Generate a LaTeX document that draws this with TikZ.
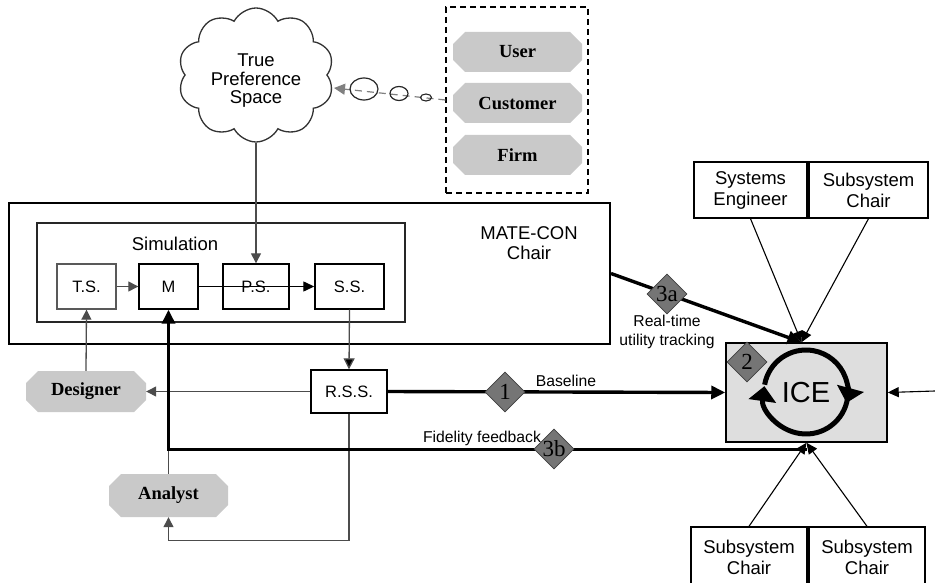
\documentclass[tikz,border=0pt]{standalone}
\usepackage{fontspec}
\setmainfont{Liberation Sans}
\newfontfamily\serifface{Liberation Serif}
\usetikzlibrary{arrows.meta,shapes.geometric,shapes.symbols,calc}
\definecolor{octfill}{gray}{0.79}
\definecolor{icefill}{gray}{0.87}
\definecolor{dmdfill}{gray}{0.46}
\definecolor{lnk}{gray}{0.3}
\tikzset{
  big/.style={font=\fontsize{18.5}{20}\selectfont},
  lbl/.style={font=\fontsize{15.7}{17}\selectfont},
  blockbox/.style={draw, line width=1.4pt, inner sep=0pt, font=\fontsize{16.5}{18}\selectfont},
  octo/.style={rectangle, inner sep=0pt, font=\serifface\bfseries\fontsize{18.5}{20}\selectfont,
    path picture={\fill[octfill]
      ([xshift=12pt]path picture bounding box.south west) --
      ([xshift=-12pt]path picture bounding box.south east) --
      ([yshift=12pt]path picture bounding box.south east) --
      ([yshift=-12pt]path picture bounding box.north east) --
      ([xshift=-12pt]path picture bounding box.north east) --
      ([xshift=12pt]path picture bounding box.north west) --
      ([yshift=-12pt]path picture bounding box.north west) --
      ([yshift=12pt]path picture bounding box.south west) -- cycle;}},
  dmd/.style={diamond, shape aspect=1, draw=black!75, line width=0.8pt, fill=dmdfill,
    minimum width=40pt, minimum height=40pt, inner sep=0pt,
    font=\serifface\fontsize{23}{23}\selectfont},
  glink/.style={draw=lnk, line width=1.3pt, -{Triangle[length=10pt,width=10pt]}},
  blink/.style={draw=black, line width=1.3pt, -{Triangle[length=11pt,width=10pt]}},
  thickline/.style={draw=black, line width=3.4pt, -{Triangle[length=14pt,width=13pt]}},
}
\begin{document}
\begin{tikzpicture}[x=1pt,y=-1pt]
\useasboundingbox (0,0) rectangle (935,583);
\clip (0,0) rectangle (935,583);

% cloud and preference holders
\node[cloud, draw=black!80, line width=1.3pt, cloud puffs=10, cloud puff arc=125, aspect=1.1,
  minimum width=156pt, minimum height=134pt, inner sep=0pt] (cloud) at (256,75) {};
\node[align=center, font=\fontsize{18.5}{18.5}\selectfont] (cloudlbl) at (256,81) {True\\Preference\\Space};
\node[draw, line width=1.2pt, dash pattern=on 6pt off 4pt, minimum width=142pt, minimum height=186pt] (prefbox) at (517,100) {};
\node[octo, minimum width=129pt, minimum height=40pt] (user) at (517.5,52) {User};
\node[octo, minimum width=129pt, minimum height=40pt] (customer) at (517.5,103) {Customer};
\node[octo, minimum width=129pt, minimum height=40pt] (firm) at (517.5,155) {Firm};

\coordinate (cloudin) at (334,88);
\draw[draw=black!50, line width=1.2pt, dash pattern=on 7pt off 5pt, -{Triangle[length=11pt,width=11pt]}] (prefbox.west) -- (cloudin);
\node[ellipse, draw=black!85, line width=1.2pt, minimum width=28pt, minimum height=22pt, inner sep=0pt] (bubbleA) at (364,89) {};
\node[ellipse, draw=black!85, line width=1.2pt, minimum width=18pt, minimum height=14pt, inner sep=0pt] (bubbleB) at (399,93.5) {};
\node[ellipse, draw=black!85, line width=1.1pt, minimum width=11pt, minimum height=7pt, inner sep=0pt] (bubbleC) at (426,97.5) {};

% MATE-CON chair and simulation
\node[draw, line width=2pt, minimum width=601pt, minimum height=141pt] (mate) at (309.5,273.5) {};
\node[big, align=center] (matelbl) at (529,243) {MATE-CON\\Chair};
\node[draw=black!85, line width=1.5pt, minimum width=368pt, minimum height=99pt] (sim) at (221,272.5) {};
\node[big] (simlbl) at (175,244) {Simulation};

\node[blockbox, draw=black!65, minimum width=59pt, minimum height=45pt] (ts) at (86.5,286.5) {T.S.};
\node[blockbox, minimum width=59pt, minimum height=45pt] (m) at (168.5,286.5) {M};
\node[blockbox, minimum width=66pt, minimum height=45pt] (ps) at (256,286.5) {P.S.};
\node[blockbox, minimum width=69pt, minimum height=45pt] (ss) at (349.5,286.5) {S.S.};
\node[blockbox, minimum width=76pt, minimum height=43pt] (rss) at (349,391.5) {R.S.S.};

\node[octo, minimum width=120pt, minimum height=41pt] (designer) at (86,391.5) {Designer};
\node[octo, minimum width=119pt, minimum height=43pt] (analyst) at (168.5,495.5) {Analyst};

% ICE and team
\node[draw, line width=1.5pt, fill=icefill, minimum width=161pt, minimum height=99pt] (ice) at (806.5,392.5) {};
\node[blockbox, align=center, font=\fontsize{18.5}{21}\selectfont, minimum width=113pt, minimum height=56pt] (se) at (750.5,190) {Systems\\Engineer};
\node[blockbox, align=center, font=\fontsize{18.5}{21}\selectfont, minimum width=119pt, minimum height=56pt] (sct) at (868.5,190) {Subsystem\\Chair};
\node[blockbox, align=center, font=\fontsize{18.5}{21}\selectfont, minimum width=116pt, minimum height=60pt] (scl) at (749,557) {Subsystem\\Chair};
\node[blockbox, align=center, font=\fontsize{18.5}{21}\selectfont, minimum width=116pt, minimum height=60pt] (scr) at (867,557) {Subsystem\\Chair};

% ICE cycle
\coordinate (cyc) at (806,392);
\draw[line width=5pt, -{Triangle[length=15pt,width=27pt]}] ($(cyc)+(170:42pt)$) arc[start angle=170, end angle=-15, radius=42pt];
\draw[line width=5pt, -{Triangle[length=15pt,width=27pt]}] ($(cyc)+(-8:42pt)$) arc[start angle=-8, end angle=-188, radius=42pt];
\node[font=\fontsize{29}{30}\selectfont, inner sep=0pt] (icelbl) at (806,393) {ICE};

% connectors inside simulation
\draw[glink] (ps.north |- cloud.south) -- (ps.north);
\draw[glink] (ts.east) -- (m.west);
\draw[blink] (m.east) -- (ss.west);
\draw[draw=lnk, line width=1.3pt, -{Triangle[length=11pt,width=11pt,fill=black]}] (ss.south) -- (rss.north);
\draw[glink] (rss.west) -- (designer.east);
\draw[glink] (designer.north) -- (ts.south);
\draw[glink] (rss.south) -- ++(0,127) -| (analyst.south);

% thick flows
\coordinate (fidstart) at ($(ice.south)+(0,7)$);
\draw[draw=lnk, line width=1.3pt] (analyst.north) -- (analyst.north |- fidstart);
\draw[thickline] (fidstart) -- (fidstart -| m.south) -- (m.south);
\draw[thickline] (rss.east) -- (ice.west);
\coordinate (icetop) at ($(ice.north)+(-5,0)$);
\draw[thickline] (mate.east) -- (icetop);
\draw[blink, line width=1.1pt] (se.south) -- (icetop);
\draw[blink, line width=1.1pt] (sct.south) -- (icetop);
\draw[blink, line width=1.1pt] (scl.north) -- (ice.south);
\draw[blink, line width=1.1pt] (scr.north) -- (ice.south);
\coordinate (rightin) at (935,391);
\draw[blink, line width=1.1pt] (rightin) -- (ice.east);

% diamonds and labels
\node[dmd] (d1) at (505,392) {1};
\node[dmd] (d2) at (747,362) {2};
\node[dmd] (d3a) at (667,294) {3a};
\node[dmd] (d3b) at (554,449) {3b};
\node[lbl] (baselbl) at (566,381) {Baseline};
\node[lbl] (fidlbl) at (482,438) {Fidelity feedback};
\node[lbl, align=center, font=\fontsize{15.7}{19}\selectfont] (rtlbl) at (667,332) {Real-time\\utility tracking};
\end{tikzpicture}
\end{document}
